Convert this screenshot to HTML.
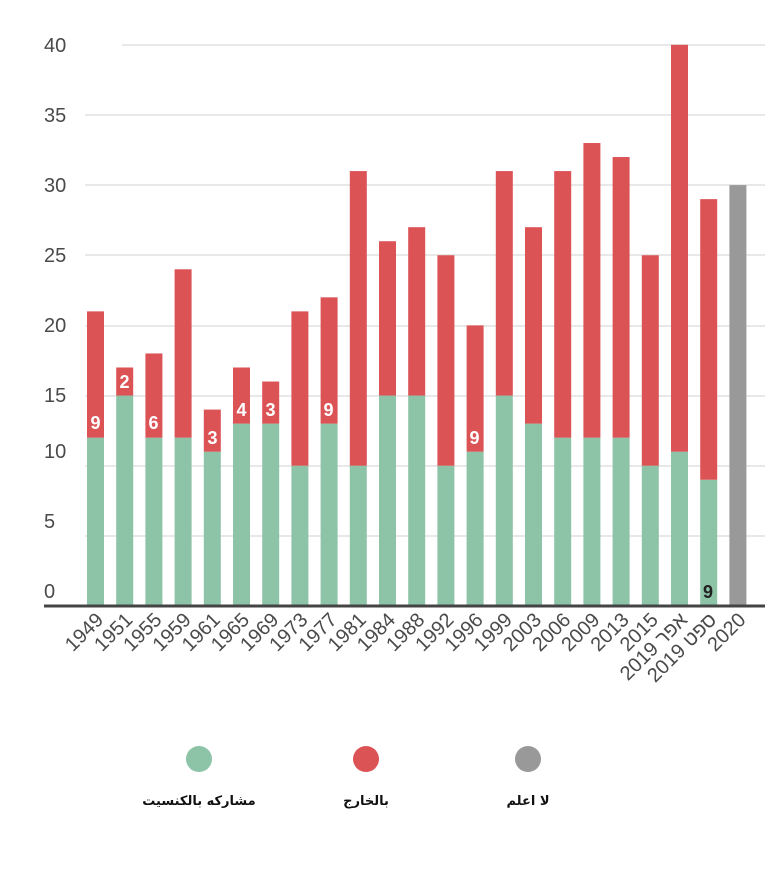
<!DOCTYPE html>
<html><head><meta charset="utf-8"><style>body{margin:0;background:#fff}svg{display:block}</style></head><body>
<svg width="781" height="888" xmlns="http://www.w3.org/2000/svg" font-family="Liberation Sans, DejaVu Sans, sans-serif">
<g stroke="#e0e0e0" stroke-width="1.5">
<line x1="122" x2="765" y1="45" y2="45"/><line x1="85" x2="765" y1="115" y2="115"/><line x1="85" x2="765" y1="185" y2="185"/><line x1="85" x2="765" y1="255" y2="255"/><line x1="85" x2="765" y1="326" y2="326"/><line x1="85" x2="765" y1="396" y2="396"/><line x1="85" x2="765" y1="466" y2="466"/><line x1="85" x2="765" y1="536" y2="536"/>
</g>
<g fill="#4a4a4a" font-size="20">
<text x="44" y="52">40</text><text x="44" y="122">35</text><text x="44" y="192">30</text><text x="44" y="262">25</text><text x="44" y="332">20</text><text x="44" y="402">15</text><text x="44" y="458">10</text><text x="44" y="528">5</text><text x="44" y="598">0</text>
</g>
<g id="bars"></g>
<line x1="44" x2="765" y1="606" y2="606" stroke="#444" stroke-width="3"/>
<g fill="#fff" font-size="18" font-weight="bold" text-anchor="middle">
<text x="95.5" y="429">9</text><text x="124.5" y="388">2</text><text x="153.5" y="429">6</text><text x="212.5" y="444">3</text><text x="241.5" y="416">4</text><text x="270.5" y="416">3</text><text x="328.5" y="416">9</text><text x="474.5" y="444">9</text>
</g>
<text x="708" y="598" font-size="18" font-weight="bold" fill="#222" text-anchor="middle">9</text>
<g id="labels" fill="#4a4a4a" font-size="20" text-anchor="end"></g>
<circle cx="199" cy="759" r="13" fill="#8dc3a7"/><circle cx="366" cy="759" r="13" fill="#dc5356"/><circle cx="528" cy="759" r="13" fill="#999"/>
<g font-size="13" font-weight="bold" fill="#111" text-anchor="middle" font-family="DejaVu Sans, sans-serif">
<text x="199" y="805" direction="rtl">مشاركه بالكنسيت</text><text x="366" y="805" direction="rtl">بالخارج</text><text x="528" y="805" direction="rtl">لا اعلم</text>
</g>
<script>
var d=[["1949",12,21],["1951",15,17],["1955",12,18],["1959",12,24],["1961",11,14],["1965",13,17],["1969",13,16],["1973",10,21],["1977",13,22],["1981",10,31],["1984",15,26],["1988",15,27],["1992",10,25],["1996",11,20],["1999",15,31],["2003",13,27],["2006",12,31],["2009",12,33],["2013",12,32],["2015",10,25],["2019 אפר",11,40],["2019 ספט",9,29],["2020",0,30]];
var ns="http://www.w3.org/2000/svg",b=document.getElementById("bars"),l=document.getElementById("labels");
var Y=function(v){return 606-v*14.03};
d.forEach(function(e,i){var cx=95.5+i*29.2;
function r(y0,y1,c){var R=document.createElementNS(ns,"rect");R.setAttribute("x",cx-8.5);R.setAttribute("width",17);R.setAttribute("y",Y(y1));R.setAttribute("height",Y(y0)-Y(y1));R.setAttribute("fill",c);b.appendChild(R);}
if(i==22){r(0,30,"#999");}else{r(0,e[1],"#8dc3a7");r(e[1],e[2],"#dc5356");}
var t=document.createElementNS(ns,"text");t.setAttribute("transform","translate("+(cx+9)+",621) rotate(-45)");t.textContent=e[0];l.appendChild(t);});
</script>
</svg>
</body></html>
